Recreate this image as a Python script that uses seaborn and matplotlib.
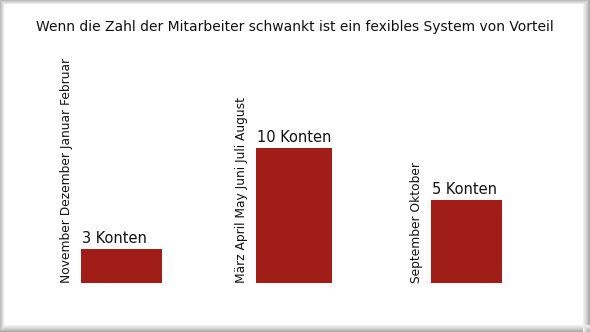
import matplotlib
matplotlib.use("Agg")
import matplotlib.pyplot as plt
from matplotlib.patches import Rectangle
import seaborn as sns
import pandas as pd

title = "Wenn die Zahl der Mitarbeiter schwankt ist ein fexibles System von Vorteil"
categories = ["November Dezember Januar Februar",
              "März April May Juni Juli August",
              "September Oktober"]
# bar heights as drawn in the picture (not proportional to the printed counts)
heights = [2.5, 10.0, 6.15]
value_labels = ["3 Konten", "10 Konten", "5 Konten"]
bar_widths = [0.47, 0.435, 0.41]

sns.set_theme(style="white")
plt.rcParams['font.family'] = ['DejaVu Sans']

W, H = 590, 332
fig = plt.figure(figsize=(W / 100, H / 100), dpi=100)
fig.patch.set_facecolor("white")

# grey beveled frame
shades_br = ["#a8a8a8", "#b8b8b8", "#c6c6c6", "#d2d2d2", "#dddddd", "#e7e7e7", "#f0f0f0"]
for i, c in enumerate(shades_br):
    fig.add_artist(Rectangle((0, i / H), 1, 1 / H, transform=fig.transFigure,
                             facecolor=c, edgecolor="none"))
    fig.add_artist(Rectangle(((W - 1 - i) / W, 0), 1 / W, 1, transform=fig.transFigure,
                             facecolor=c, edgecolor="none"))
shades_tl = ["#bcbcbc", "#cccccc", "#dbdbdb", "#e8e8e8"]
for i, c in enumerate(shades_tl):
    fig.add_artist(Rectangle((i / W, (i + 1) / H), 1 / W, 1 - (2 * i + 1) / H,
                             transform=fig.transFigure, facecolor=c, edgecolor="none"))
    fig.add_artist(Rectangle((i / W, (H - 1 - i) / H), 1 - (2 * i + 1) / W, 1 / H,
                             transform=fig.transFigure, facecolor=c, edgecolor="none"))

px_per_unit = 13.5
ax_left = 35.25 / W
ax_w = 517.5 / W
ax_bottom = 49 / H
ax_h = 200 / H
ax = fig.add_axes([ax_left, ax_bottom, ax_w, ax_h])
ax.set_facecolor("none")

df = pd.DataFrame({"cat": categories, "h": heights})
sns.barplot(data=df, x="cat", y="h", color="#a11d18", saturation=1,
            width=0.45, ax=ax)
for p, w in zip(ax.patches, bar_widths):
    cx = p.get_x() + p.get_width() / 2
    p.set_x(cx - w / 2)
    p.set_width(w)
    p.set_edgecolor("none")

ax.set_xlim(-0.5, 2.5)
ax.set_ylim(0, ax_h * H / px_per_unit)
ax.axis("off")

for p, cat, lab in zip(ax.patches, categories, value_labels):
    x0 = p.get_x()
    top = p.get_height()
    ax.annotate(cat, (x0, 0), xytext=(-8, 0), textcoords="offset pixels",
                rotation=90, ha="right", va="bottom", fontsize=8.8, color="#111111")
    ax.annotate(lab, (x0, top), xytext=(1, 6), textcoords="offset pixels",
                ha="left", va="baseline", fontsize=10.5, color="#111111")

fig.text(0.5, 1 - 27 / H, title, ha="center", va="center", fontsize=10.0, color="#111111")

fig.savefig("out.png", dpi=100)
